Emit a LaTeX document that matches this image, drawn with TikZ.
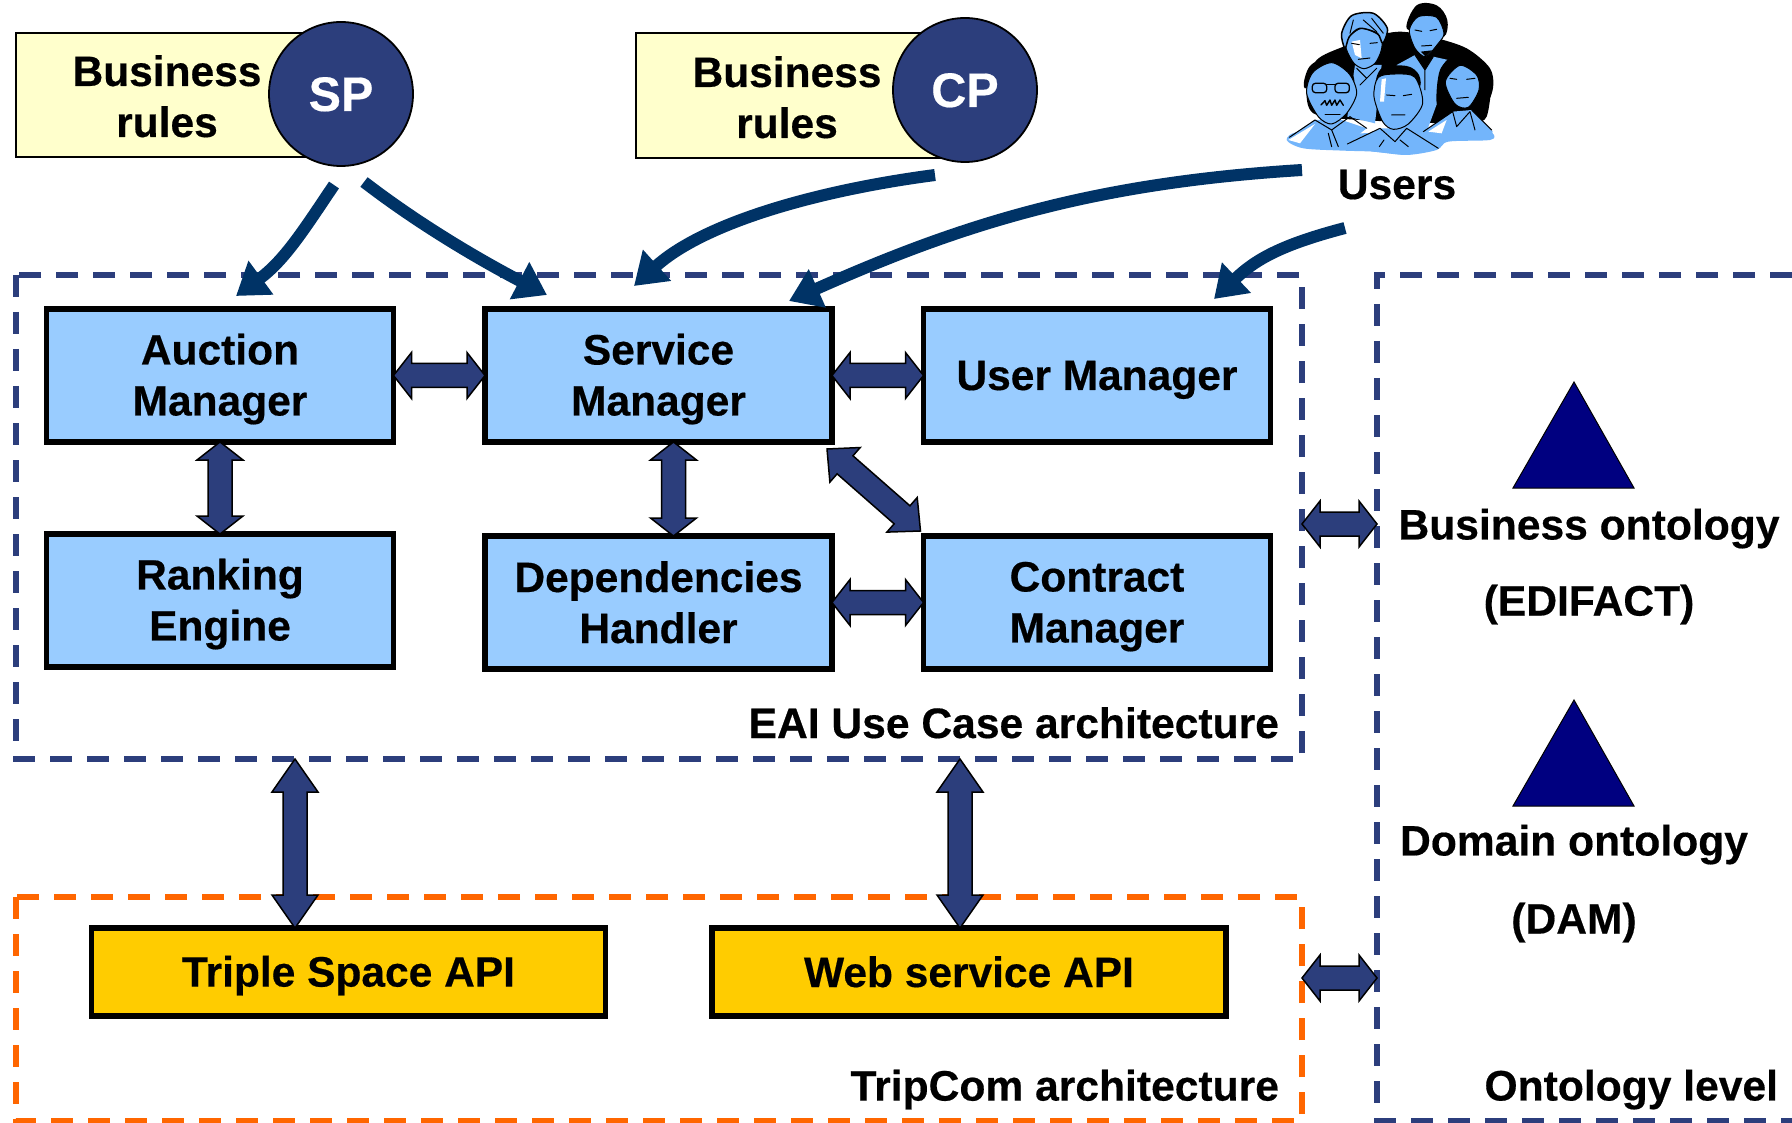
\documentclass[tikz,border=0pt]{standalone}
\usepackage{fontspec}
\setmainfont[BoldFeatures={FakeBold=0.4}]{Liberation Sans}
\usetikzlibrary{arrows.meta,calc}
\definecolor{navy}{HTML}{2C3E7C}
\definecolor{deepnavy}{HTML}{003366}
\definecolor{boxblue}{HTML}{99CCFF}
\definecolor{apigold}{HTML}{FFCC00}
\definecolor{paleyellow}{HTML}{FFFFCC}
\definecolor{tripred}{HTML}{FF6600}
\definecolor{tri}{HTML}{000080}
\definecolor{peep}{HTML}{73B5FB}
\newcommand{\rl}{\rule[-8pt]{0pt}{46pt}}
\newcommand{\ra}{\rule[-8pt]{0pt}{50pt}}
\tikzset{
  txt/.style={font=\fontsize{42.5}{51}\selectfont\bfseries,align=center,inner sep=0pt,outer sep=0pt},
  lbl/.style={font=\fontsize{42.6}{51}\selectfont\bfseries,inner sep=0pt,outer sep=0pt},
  compbox/.style={txt,draw=black,line width=5.5pt,fill=boxblue,minimum width=347pt,minimum height=133pt},
  apibox/.style={txt,draw=black,line width=5.5pt,fill=apigold,minimum width=514pt,minimum height=88pt},
  rulebox/.style={draw=black,line width=1.6pt,fill=paleyellow},
  actor/.style={circle,draw=black,line width=1.8pt,fill=navy,text=white,font=\fontsize{48.5}{52}\selectfont\bfseries,minimum size=144pt,inner sep=0pt,outer sep=0pt},
  region/.style={line width=5.5pt,dash pattern=on 22pt off 15pt},
  flow/.style={draw=deepnavy,line width=12pt,-{Triangle[length=31pt,width=40pt,color=deepnavy]}},
  barrow/.style={draw=black,line width=1.5pt,fill=navy,line join=miter,to path={
    let \p1=(\tikztostart),\p2=(\tikztotarget),\n1={atan2(\y2-\y1,\x2-\x1)},\n2={veclen(\x2-\x1,\y2-\y1)} in
    -- ([shift={(\p1)},rotate=\n1]#1,23pt)
    -- ([shift={(\p1)},rotate=\n1]#1,12pt)
    -- ([shift={(\p1)},rotate=\n1]\n2-#1,12pt)
    -- ([shift={(\p1)},rotate=\n1]\n2-#1,23pt)
    -- (\tikztotarget)
    -- ([shift={(\p1)},rotate=\n1]\n2-#1,-23pt)
    -- ([shift={(\p1)},rotate=\n1]\n2-#1,-12pt)
    -- ([shift={(\p1)},rotate=\n1]#1,-12pt)
    -- ([shift={(\p1)},rotate=\n1]#1,-23pt)
    -- cycle}},
  onto/.style={draw=black,line width=1pt,fill=tri},
  ink/.style={draw=black,line width=1pt,line join=round,line cap=round},
  skin/.style={fill=peep,draw=black,line width=1pt,line join=round},
}
\begin{document}
\begin{tikzpicture}[x=1pt,y=-1pt]
\useasboundingbox (0,0) rectangle (1792,1123);
\fill[white] (0,0) rectangle (1792,1123);

% regions
\draw[region,navy] (16,275) rectangle (1302,759);
\draw[region,tripred] (16,897) rectangle (1302,1121);
\draw[region,navy] (1792,275) -- (1377,275) -- (1377,1121) -- (1792,1121);
\coordinate (eaiE) at (1302,524);
\coordinate (ontE) at (1377,524);
\coordinate (tripE) at (1302,978);
\coordinate (ontF) at (1377,978);

% rules and actors
\draw[rulebox] (16,33) rectangle (320,157);
\node[txt] (br1) at (167,96.5) {\rl Business\\\rl rules};
\node[actor] (sp) at (341,94) {\ra SP};
\draw[rulebox] (636,33) rectangle (940,158);
\node[txt] (br2) at (787,97.5) {\rl Business\\\rl rules};
\node[actor] (cp) at (965,90) {\ra CP};

% people
\begin{scope}[shift={(1260pt,0pt)},x=0.3333pt,y=-0.3333pt]
 \fill[black] plot[smooth cycle] coordinates {(140,260)(170,180)(250,140)(330,112)(420,95)(520,112)(620,145)(690,205)(698,270)(660,350)(600,370)(300,360)(160,340)};
 \fill[peep] plot[smooth cycle,tension=.5] coordinates {(80,420)(120,395)(300,400)(500,390)(640,372)(698,400)(690,420)(565,425)(530,450)(440,465)(340,455)(250,452)(130,445)};
 % top-left person
 \fill[peep] (285,195)--(365,195)--(345,370)--(262,350)--cycle;
 \draw[ink] (290,205)--(320,235)--(350,205) (320,235)--(300,255);
 \draw[skin] plot[smooth cycle] coordinates {(258,120)(305,85)(362,110)(364,150)(345,190)(312,206)(282,190)(260,150)};
 \fill[white] (275,125)--(300,120)--(305,175)--(285,165)--cycle;
 \draw[skin,line width=1.5pt] plot[smooth cycle] coordinates {(245,100)(275,47)(340,40)(382,85)(368,130)(352,100)(300,85)(268,110)(255,145)};
 \draw[ink] (280,60)--(270,100) (310,60)--(350,95) (335,55)--(370,100) (275,130)--(298,134) (330,130)--(352,128) (295,178)--(330,174);
 % top-right person
 \fill[peep] (410,195)--(465,165)--(495,210)--(520,170)--(565,180)--(535,300)--(500,395)--(420,395)--cycle;
 \draw[ink] (465,165)--(495,210)--(520,170) (495,210)--(495,270);
 \fill[black] plot[smooth cycle,tension=.6] coordinates {(440,85)(470,16)(530,16)(562,60)(552,110)(500,90)};
 \draw[skin] plot[smooth cycle] coordinates {(448,90)(475,50)(530,52)(552,100)(535,130)(497,170)(465,145)};
 \draw[ink] (465,90)--(485,94) (510,92)--(530,88) (485,138)--(515,136);
 \fill[black] (482,155)--(516,151)--(497,170)--cycle;
 % right woman
 \fill[black] plot[smooth cycle] coordinates {(530,310)(540,210)(590,160)(650,175)(692,240)(680,350)(640,365)(560,350)};
 \fill[peep] (490,395)--(578,335)--(635,330)--(698,395)--(690,418)--(510,412)--cycle;
 \draw[ink] (490,395)--(578,335)--(590,380)--(630,335)--(645,390) (635,330)--(695,390);
 \fill[white] (505,395)--(560,360)--(545,400)--cycle;
 \draw[skin] plot[smooth cycle] coordinates {(556,245)(600,196)(650,225)(657,270)(625,322)(585,312)};
 \draw[ink] (570,235)--(590,238) (620,238)--(645,235) (590,295)--(625,292);
 % front man
 \fill[peep] (262,430)--(360,385)--(440,385)--(535,445)--(440,465)--(340,455)--cycle;
 \fill[black] plot[smooth cycle,tension=.6] coordinates {(350,260)(365,205)(440,198)(477,225)(475,265)(410,240)};
 \draw[skin] plot[smooth cycle] coordinates {(342,290)(355,232)(410,222)(465,232)(488,310)(445,372)(400,388)(368,365)};
 \fill[white] (365,238)--(378,235)--(372,305)--(360,305)--cycle;
 \draw[ink] (262,432)--(360,385)--(405,425)--(440,385)--(535,445) (372,420)--(358,440) (420,420)--(445,440) (380,285)--(405,287) (430,287)--(455,283) (395,345)--(435,345);
 % left man
 \fill[peep] (85,412)--(165,360)--(245,360)--(320,385)--(262,430)--(130,440)--cycle;
 \draw[ink] (88,412)--(165,360)--(215,390)--(270,350)--(320,385) (215,390)--(235,440) (205,400)--(215,440);
 \fill[black] plot[smooth cycle,tension=.6] coordinates {(135,265)(150,198)(215,172)(265,198)(280,250)(210,220)};
 \draw[skin] plot[smooth cycle] coordinates {(140,280)(158,218)(215,188)(268,222)(290,280)(260,340)(215,372)(175,350)};
 \draw[ink,line width=1.3pt,rounded corners=3pt] (157,250) rectangle (200,278) (225,250) rectangle (268,278);
 \draw[ink] (200,255)--(225,255);
 \draw[ink,line width=1.4pt] (183,315)--(195,302)--(200,316)--(210,300)--(215,316)--(225,300)--(230,316)--(240,300)--(250,316);
 \draw[ink] (195,345)--(240,345);
 \fill[white] (85,420)--(165,372)--(120,430)--cycle;
\end{scope}
\node[lbl] (users) at (1397,184) {\rl Users};

% components
\node[compbox] (auction) at (220,375.5) {\rl Auction\\\rl Manager};
\node[compbox] (service) at (658.5,375.5) {\rl Service\\\rl Manager};
\node[compbox] (user) at (1097,375.5) {\rl User Manager};
\node[compbox] (ranking) at (220,600.5) {\rl Ranking\\\rl Engine};
\node[compbox] (dep) at (658.5,602.5) {\rl Dependencies\\\rl Handler};
\node[compbox] (contract) at (1097,602.5) {\rl Contract\\\rl Manager};
\node[apibox] (tsa) at (348.5,972) {\rl Triple Space API};
\node[apibox] (wsa) at (969,972) {\rl Web service API};

% block arrows
\draw[barrow=18pt] (auction.east) to (service.west);
\draw[barrow=18pt] (service.east) to (user.west);
\draw[barrow=18pt] (dep.east) to (contract.west);
\draw[barrow=18pt] (auction.south) to (ranking.north);
\draw[barrow=18pt] ($(service.south)+(15,0)$) to ($(dep.north)+(15,0)$);
\draw[barrow=24pt] ($(service.south east)+(-5,7)$) to ($(contract.north west)+(-3,-5)$);
\coordinate (eaiA) at (295,759);
\coordinate (eaiB) at (960,759);
\draw[barrow=33pt] (eaiA) to (eaiA|-tsa.north);
\draw[barrow=33pt] (eaiB) to (eaiB|-wsa.north);
\draw[barrow=18pt] (eaiE) to (ontE);
\draw[barrow=18pt] (tripE) to (ontF);

% flow arrows
\coordinate (a1) at (334,185); \coordinate (a1e) at (236,296);
\coordinate (a2) at (364,182); \coordinate (a2e) at (547,295);
\coordinate (a3) at (935,175); \coordinate (a3e) at (634,286);
\coordinate (a4) at (1302,170); \coordinate (a4e) at (789,301);
\coordinate (a5) at (1345,228); \coordinate (a5e) at (1214,299);
\draw[flow] (a1) .. controls (305,228) and (285,260) .. (a1e);
\draw[flow] (a2) .. controls (420,225) and (480,260) .. (a2e);
\draw[flow] (a3) .. controls (820,190) and (705,222) .. (a3e);
\draw[flow] (a4) .. controls (1090,183) and (960,225) .. (a4e);
\draw[flow] (a5) .. controls (1280,245) and (1255,260) .. (a5e);

% ontology
\coordinate (t1a) at (1574,382); \coordinate (t1b) at (1634,488); \coordinate (t1c) at (1513,488);
\draw[onto] (t1a) -- (t1b) -- (t1c) -- cycle;
\coordinate (t2a) at (1574,700); \coordinate (t2b) at (1634,806); \coordinate (t2c) at (1513,806);
\draw[onto] (t2a) -- (t2b) -- (t2c) -- cycle;
\node[lbl] (o1) at (1589,525) {\rl Business ontology};
\node[lbl] (o2) at (1589,601) {\rl (EDIFACT)};
\node[lbl] (o3) at (1574,841) {\rl Domain ontology};
\node[lbl] (o4) at (1574,919) {\rl (DAM)};

% region labels
\node[lbl,anchor=east] (l1) at (1279,723) {\rl EAI Use Case architecture};
\node[lbl,anchor=east] (l2) at (1279,1086) {\rl TripCom architecture};
\node[lbl,anchor=east] (l3) at (1778,1086) {\rl Ontology level};
\end{tikzpicture}
\end{document}
